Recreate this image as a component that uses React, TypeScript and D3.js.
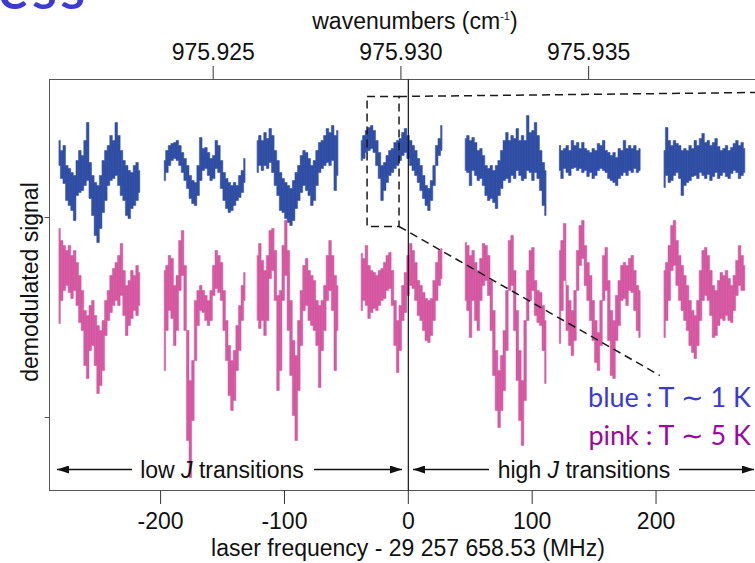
import React from "react";
import * as d3 from "d3";

// Scan windows: start of each window (MHz offset from 29 257 658.53 MHz) and grid step
const windowStartMHz = [-282, -197, -122, -38, 46, 122, 206.5];
const sampleStepMHz = 2.1;

// Each sample: [upper, lower] excursion of the demodulated signal (arb. units)
// Blue: T ~ 1 K
const blue1: [number, number][] = [
  [349, 324], [339, 311], [344, 306], [324, 289], [321, 284], [317, 279], [314, 269], [329, 294],
  [339, 297], [334, 299], [349, 304], [367, 309], [327, 291], [314, 274], [307, 254], [304, 247],
  [314, 261], [329, 277], [339, 289], [344, 304], [354, 309], [349, 311], [367, 314], [354, 304],
  [339, 294], [329, 289], [324, 274], [319, 271], [317, 281], [324, 284], [327, 289], [319, 297],
];
const blue2: [number, number][] = [
  [329, 309], [339, 317], [344, 324], [346, 329], [347, 331], [349, 329], [344, 324], [337, 317],
  [331, 309], [324, 301], [314, 291], [309, 286], [307, 284], [324, 294], [352, 309], [341, 319],
  [342, 321], [337, 314], [331, 309], [334, 311], [349, 321], [344, 317], [329, 301], [317, 289],
  [311, 281], [307, 277], [304, 279], [307, 284], [304, 289], [314, 292], [319, 297], [331, 307],
];
const blue3: [number, number][] = [
  [349, 317], [354, 324], [349, 319], [357, 324], [351, 321], [361, 327], [354, 317], [339, 304],
  [329, 294], [317, 279], [311, 277], [307, 271], [304, 267], [301, 264], [309, 269], [317, 281],
  [324, 289], [334, 297], [339, 304], [337, 299], [331, 294], [324, 284], [329, 289], [339, 304],
  [347, 317], [349, 321], [354, 324], [361, 327], [357, 324], [364, 329], [354, 299], [359, 314],
];
const blue4: [number, number][] = [
  [349, 329], [354, 331], [359, 337], [362, 339], [364, 341], [359, 337], [349, 324], [337, 311],
  [324, 289], [327, 299], [334, 307], [339, 314], [341, 317], [347, 321], [349, 324], [351, 329],
  [357, 334], [361, 337], [354, 331], [349, 324], [344, 319], [339, 314], [331, 307], [324, 299],
  [314, 291], [304, 284], [301, 279], [309, 289], [324, 304], [344, 324], [351, 334], [364, 339],
];
const blue5: [number, number][] = [
  [351, 319], [354, 317], [349, 304], [352, 319], [347, 314], [339, 309], [341, 311], [334, 304],
  [324, 294], [321, 289], [324, 291], [319, 287], [324, 281], [329, 294], [339, 301], [349, 309],
  [357, 311], [349, 307], [354, 314], [351, 311], [361, 319], [349, 314], [354, 309], [349, 311],
  [374, 319], [357, 317], [359, 309], [367, 317], [354, 311], [339, 299], [327, 284], [319, 274],
];
const blue6: [number, number][] = [
  [344, 319], [339, 311], [341, 321], [344, 317], [339, 314], [349, 321], [344, 322], [347, 319],
  [341, 321], [347, 317], [341, 319], [339, 313], [337, 317], [341, 311], [339, 314], [346, 319],
  [344, 321], [349, 319], [339, 317], [337, 311], [334, 309], [337, 307], [332, 304], [341, 311],
  [339, 314], [349, 317], [341, 314], [344, 319], [341, 317], [344, 321], [339, 317], [341, 319],
];
const blue7: [number, number][] = [
  [339, 302], [362, 314], [349, 307], [344, 309], [349, 314], [346, 317], [344, 311], [339, 294],
  [341, 304], [339, 307], [344, 309], [341, 313], [349, 314], [344, 311], [351, 317], [356, 314],
  [347, 311], [349, 315], [344, 309], [347, 313], [351, 317], [343, 311], [339, 314], [341, 317],
  [344, 313], [339, 311], [342, 316], [346, 319], [349, 317], [344, 311], [347, 314], [341, 317],
];

// Pink: T ~ 5 K
const pink1: [number, number][] = [
  [261, 166], [249, 189], [244, 199], [239, 204], [244, 197], [234, 191], [239, 199], [227, 184],
  [214, 167], [199, 159], [179, 124], [174, 111], [184, 139], [189, 144], [174, 124], [164, 96],
  [159, 104], [169, 119], [189, 154], [199, 169], [214, 177], [221, 184], [227, 189], [234, 184],
  [246, 194], [219, 174], [204, 154], [209, 164], [219, 171], [214, 179], [224, 174], [217, 184],
];
const pink2: [number, number][] = [
  [219, 119], [224, 159], [234, 179], [231, 171], [204, 144], [214, 159], [249, 199], [259, 214],
  [224, 159], [159, 49], [109, 12], [129, 69], [189, 129], [199, 164], [204, 179], [199, 177],
  [194, 169], [189, 164], [199, 169], [224, 194], [239, 201], [234, 197], [227, 189], [199, 159],
  [169, 129], [144, 94], [129, 79], [139, 89], [164, 119], [184, 139], [204, 169], [217, 189],
];
const pink3: [number, number][] = [
  [234, 169], [246, 161], [229, 169], [219, 154], [234, 169], [259, 211], [261, 219], [239, 189],
  [194, 99], [199, 119], [244, 189], [269, 214], [239, 159], [189, 114], [149, 74], [134, 49],
  [169, 99], [199, 144], [224, 179], [231, 184], [219, 169], [214, 164], [209, 159], [189, 144],
  [184, 102], [189, 139], [204, 159], [234, 189], [249, 199], [234, 179], [214, 119], [204, 159],
];
const pink4: [number, number][] = [
  [236, 179], [231, 189], [244, 184], [224, 171], [219, 177], [217, 181], [214, 179], [219, 184],
  [221, 189], [227, 191], [234, 199], [237, 201], [219, 184], [189, 144], [169, 117], [184, 139],
  [204, 169], [217, 177], [234, 194], [246, 204], [239, 201], [227, 189], [209, 174], [204, 169],
  [197, 159], [191, 149], [189, 147], [191, 154], [209, 169], [227, 189], [239, 204], [241, 211],
];
const pink5: [number, number][] = [
  [247, 189], [244, 179], [234, 152], [239, 189], [227, 169], [219, 159], [231, 189], [246, 204],
  [244, 209], [234, 194], [209, 159], [179, 114], [139, 79], [119, 62], [134, 79], [159, 99],
  [199, 139], [249, 199], [254, 204], [219, 159], [179, 109], [139, 69], [109, 44], [169, 89],
  [219, 169], [239, 189], [242, 199], [209, 174], [199, 167], [197, 164], [184, 139], [169, 106],
];
const pink6: [number, number][] = [
  [239, 146], [249, 179], [266, 209], [204, 159], [189, 144], [179, 134], [199, 149], [239, 199],
  [264, 224], [269, 231], [244, 204], [227, 189], [214, 169], [189, 149], [169, 127], [157, 119],
  [189, 144], [234, 189], [242, 199], [209, 149], [179, 114], [169, 111], [194, 149], [209, 164],
  [224, 189], [227, 191], [224, 184], [231, 199], [234, 197], [219, 179], [204, 159], [199, 152],
];
const pink7: [number, number][] = [
  [219, 152], [227, 169], [244, 189], [264, 219], [269, 224], [249, 204], [234, 189], [224, 179],
  [214, 169], [204, 159], [189, 144], [179, 137], [174, 131], [189, 144], [219, 169], [239, 189],
  [242, 194], [234, 189], [219, 174], [204, 152], [199, 154], [209, 164], [217, 171], [214, 169],
  [219, 174], [211, 169], [204, 167], [214, 179], [229, 194], [244, 204], [234, 199], [224, 199],
];

const blueTraces = [blue1, blue2, blue3, blue4, blue5, blue6, blue7];
const pinkTraces = [pink1, pink2, pink3, pink4, pink5, pink6, pink7];

// Axis ticks
const mhzTicks = [-200, -100, 0, 100, 200];
const wavenumberTicks = [975.925, 975.93, 975.935];
const wavenumberLabels = ["975.925", "975.930", "975.935"];
const signalTicks = [72, 272];

// Zoomed-in region (MHz, signal) and the leader lines running out to the right
const insetBox = { x0: -33.3, x1: -7.5, top: 393, bottom: 263 };
const upperLeaderEnd = { mhz: 279.9, signal: 397 };
const lowerLeaderEnd = { mhz: 203, signal: 114 };

const W = 755;
const H = 563;
const plotLeft = 49.5;
const plotRight = 756;
const plotTop = 79.5;
const plotBottom = 490.5;

const sansFont = "'Liberation Sans', Arial, Helvetica, sans-serif";
const legendFont = "Lato, 'Open Sans', sans-serif";

const x = d3.scaleLinear().domain([-289.7, 279.9]).range([plotLeft, 755]);
const xWave = d3.scaleLinear().domain([975.92064, 975.93943]).range([plotLeft, 755]);
const y = d3.scaleLinear().domain([0, 409]).range([489.5, 80.5]);

function tracePaths(samples: [number, number][], startMHz: number) {
  const xs = samples.map((_, i) => x(startMHz + i * sampleStepMHz));
  const band = d3
    .area<[number, number]>()
    .curve(d3.curveStep)
    .x((_, i) => xs[i])
    .y0((d) => y(d[1]))
    .y1((d) => y(d[0]))(samples);
  // one hairline per sample, spanning its full excursion
  const ticks = samples
    .map((d, i) => `M${xs[i]},${y(d[0])}V${y(d[1])}`)
    .join("");
  return { band: band || "", ticks };
}

function Trace({ traces, fill, texture }: { traces: [number, number][][]; fill: string; texture: string }) {
  return (
    <g>
      {traces.map((s, k) => {
        const p = tracePaths(s, windowStartMHz[k]);
        return (
          <g key={k}>
            <path d={p.band} fill={fill} stroke={fill} strokeWidth={0.5} />
            <path d={p.ticks} fill="none" stroke={texture} strokeWidth={0.7} opacity={0.7} />
          </g>
        );
      })}
    </g>
  );
}

export default function App() {
  const bx0 = x(insetBox.x0);
  const bx1 = x(insetBox.x1);
  const byT = y(insetBox.top);
  const byB = y(insetBox.bottom);
  const dash = "8 5";
  const arrowY = 469.5;

  return (
    <svg
      width={W}
      height={H}
      viewBox={`0 0 ${W} ${H}`}
      style={{ position: "absolute", left: 0, top: 0, background: "#fff" }}
    >
      <defs>
        <marker id="arrowHead" viewBox="0 0 12 8" refX={12} refY={4} markerWidth={12} markerHeight={8} markerUnits="userSpaceOnUse" orient="auto-start-reverse">
          <path d="M0,0 L12,4 L0,8 Z" fill="#111" />
        </marker>
      </defs>

      {/* Partial slide heading at the very top */}
      <text x={-2} y={9} fontSize={58} letterSpacing={3} fill="#3b3bd4" fontFamily={legendFont} fontWeight={600}>
        ess
      </text>

      {/* Top axis: wavenumbers */}
      <text x={xWave(975.93) + 14} y={29} fontSize={23} fontFamily={sansFont} textAnchor="middle" fill="#111">
        wavenumbers (cm
        <tspan dy={-9} fontSize={11}>-1</tspan>
        <tspan dy={9}>)</tspan>
      </text>
      {wavenumberTicks.map((t, i) => (
        <g key={t}>
          <line x1={xWave(t)} x2={xWave(t)} y1={plotTop} y2={66} stroke="#333" strokeWidth={1} />
          <text x={xWave(t)} y={59.5} fontSize={23} fontFamily={sansFont} textAnchor="middle" fill="#111">
            {wavenumberLabels[i]}
          </text>
        </g>
      ))}

      {/* Frame */}
      <rect x={plotLeft} y={plotTop} width={plotRight - plotLeft} height={plotBottom - plotTop} fill="none" stroke="#555" strokeWidth={1} />
      {signalTicks.map((t) => (
        <line key={t} x1={plotLeft - 5} x2={plotLeft} y1={y(t)} y2={y(t)} stroke="#555" strokeWidth={1} />
      ))}

      {/* Traces */}
      <Trace traces={blueTraces} fill="#2f4da3" texture="#3a58ad" />
      <Trace traces={pinkTraces} fill="#d4559f" texture="#dc6aab" />

      {/* Zero line */}
      <line x1={x(0)} x2={x(0)} y1={plotTop} y2={plotBottom} stroke="#111" strokeWidth={1.2} />

      {/* Zoomed region and leader lines */}
      <g fill="none" stroke="#1a1a1a" strokeWidth={1.5} strokeDasharray={dash}>
        <rect x={bx0} y={byT} width={bx1 - bx0} height={byB - byT} />
        <line x1={bx1} y1={byT} x2={x(upperLeaderEnd.mhz)} y2={y(upperLeaderEnd.signal)} />
        <line x1={bx1} y1={byB} x2={x(lowerLeaderEnd.mhz)} y2={y(lowerLeaderEnd.signal)} />
      </g>

      {/* Legend */}
      <text x={751} y={407} fontSize={27} fontFamily={legendFont} textAnchor="end" fill="#3a3ad0">
        blue : T ∼ 1 K
      </text>
      <text x={751} y={445} fontSize={27} fontFamily={legendFont} textAnchor="end" fill="#9a0a9e">
        pink : T ∼ 5 K
      </text>

      {/* Transition groups */}
      <g stroke="#111" strokeWidth={1.5}>
        <line x1={57} x2={132} y1={arrowY} y2={arrowY} markerStart="url(#arrowHead)" />
        <line x1={314} x2={402} y1={arrowY} y2={arrowY} markerEnd="url(#arrowHead)" />
        <line x1={413} x2={489} y1={arrowY} y2={arrowY} markerStart="url(#arrowHead)" />
        <line x1={679} x2={754} y1={arrowY} y2={arrowY} markerEnd="url(#arrowHead)" />
      </g>
      <text x={222} y={477.5} fontSize={23} fontFamily={sansFont} textAnchor="middle" fill="#111">
        low <tspan fontStyle="italic">J</tspan> transitions
      </text>
      <text x={584} y={477.5} fontSize={23} fontFamily={sansFont} textAnchor="middle" fill="#111">
        high <tspan fontStyle="italic">J</tspan> transitions
      </text>

      {/* Bottom axis: laser frequency */}
      {mhzTicks.map((t) => (
        <g key={t}>
          <line x1={x(t)} x2={x(t)} y1={plotBottom} y2={504} stroke="#333" strokeWidth={1} />
          <text x={x(t)} y={529} fontSize={23} fontFamily={sansFont} textAnchor="middle" fill="#111">
            {t}
          </text>
        </g>
      ))}
      <text x={408} y={556} fontSize={23} fontFamily={sansFont} textAnchor="middle" fill="#111">
        laser frequency - 29 257 658.53 (MHz)
      </text>

      {/* Vertical axis title */}
      <text
        transform={`translate(38, ${282}) rotate(-90)`}
        fontSize={23}
        fontFamily={sansFont}
        textAnchor="middle"
        fill="#111"
      >
        demodulated signal
      </text>
    </svg>
  );
}
